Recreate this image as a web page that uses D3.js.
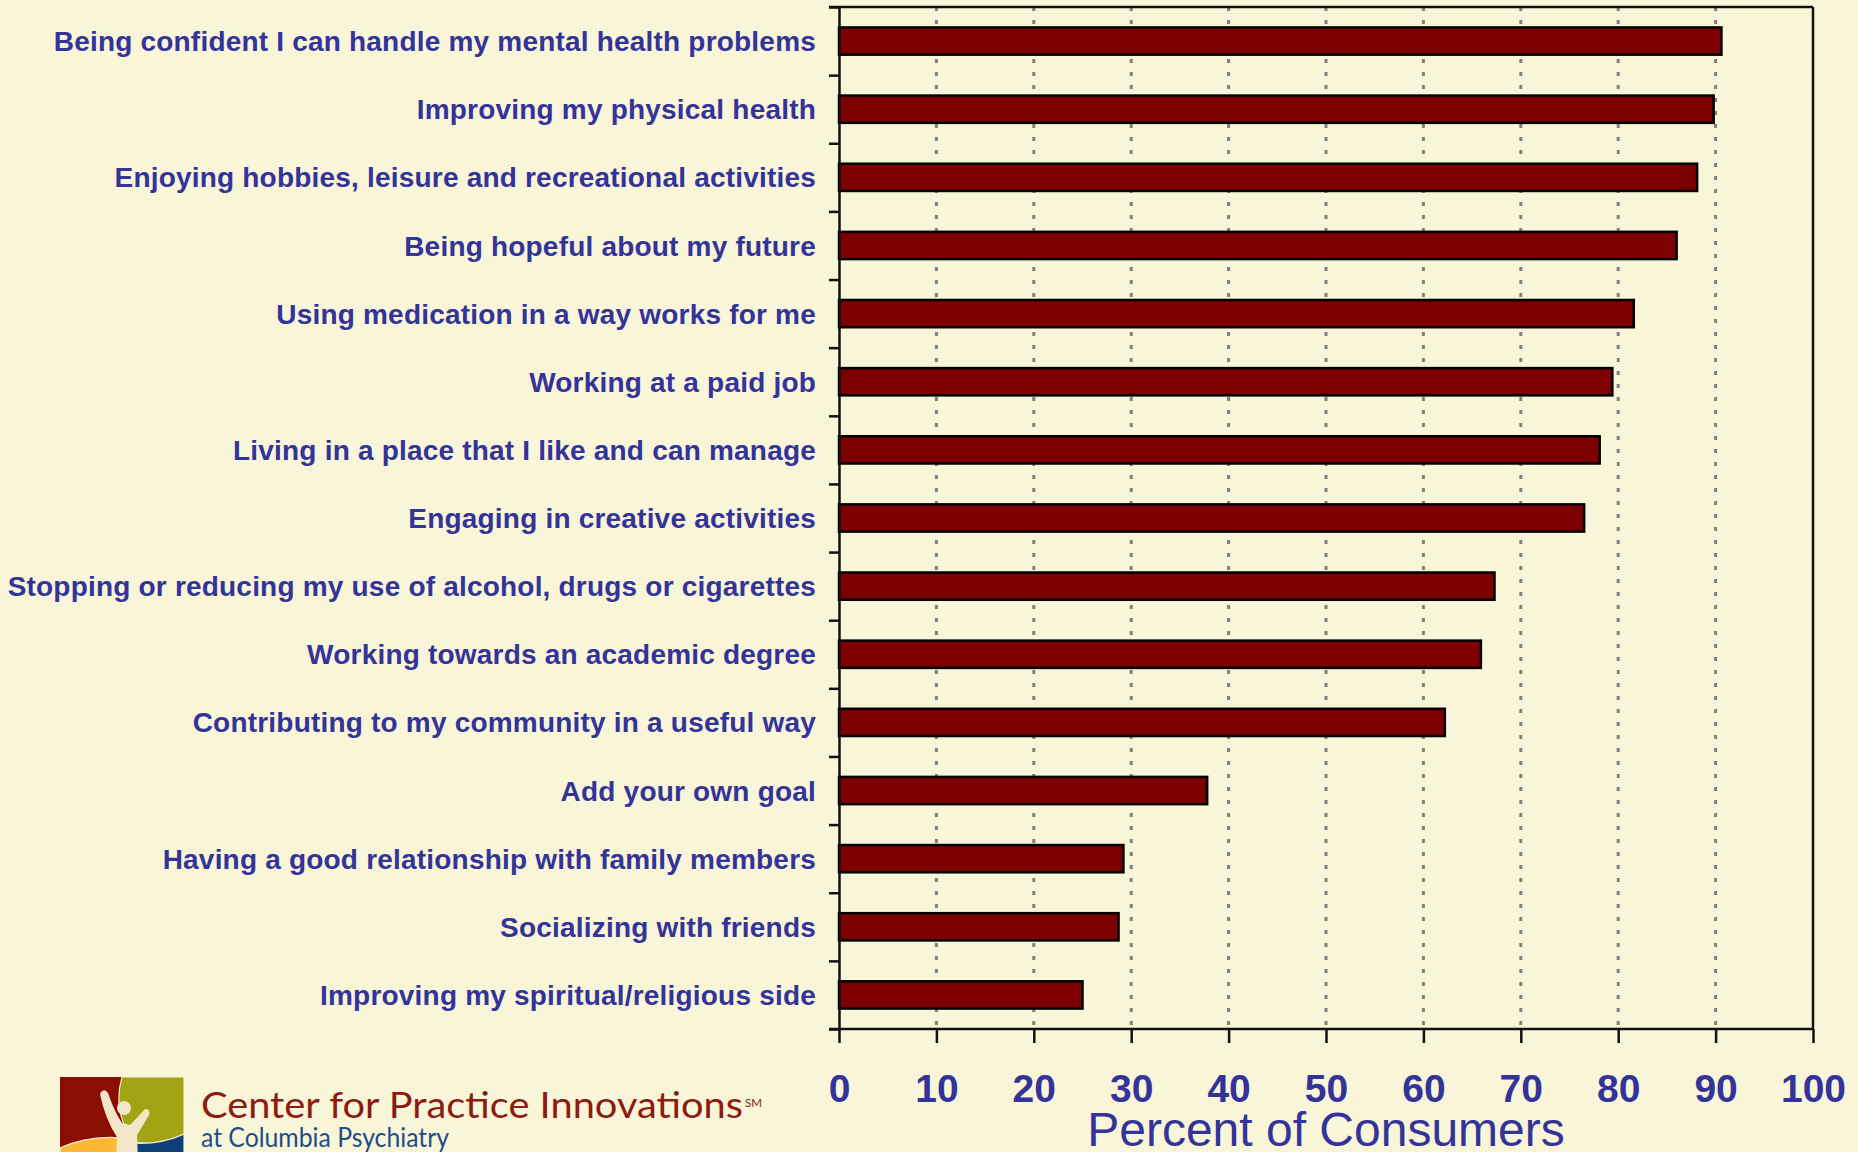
<!DOCTYPE html>
<html>
<head>
<meta charset="utf-8">
<script src="https://cdn.jsdelivr.net/npm/d3@7"></script>
<style>
  html, body { margin: 0; padding: 0; background: #f8f5d8; }
  svg { display: block; }
</style>
</head>
<body>
<svg id="chart" width="1858" height="1152"></svg>
<script>
// goals, top to bottom
const categories = [
  "Being confident I can handle my mental health problems",
  "Improving my physical health",
  "Enjoying hobbies, leisure and recreational activities",
  "Being hopeful about my future",
  "Using medication in a way works for me",
  "Working at a paid job",
  "Living in a place that I like and can manage",
  "Engaging in creative activities",
  "Stopping or reducing my use of alcohol, drugs or cigarettes",
  "Working towards an academic degree",
  "Contributing to my community in a useful way",
  "Add your own goal",
  "Having a good relationship with family members",
  "Socializing with friends",
  "Improving my spiritual/religious side"
];
const values = [90.6, 89.8, 88.1, 86.0, 81.6, 79.4, 78.1, 76.5, 67.3, 65.9, 62.2, 37.8, 29.2, 28.7, 25.0];
const xTicks = [0, 10, 20, 30, 40, 50, 60, 70, 80, 90, 100];
const xTitle = "Percent of Consumers";

const blue = "#333399";
const plotL = 839, plotR = 1813, plotT = 7, plotB = 1029;

const svg = d3.select("#chart");
svg.append("rect").attr("width", 1858).attr("height", 1152).attr("fill", "#f8f5d8");

const x = d3.scaleLinear().domain([0, 100]).range([plotL, plotR]);
const y = d3.scaleBand().domain(categories).range([plotT, plotB])
  .paddingInner(0.6).paddingOuter(0.3);
// slot boundaries for the left ticks
const ySlots = d3.scaleLinear().domain([0, categories.length]).range([plotT, plotB]);

// dashed grid
svg.append("g")
  .selectAll("line")
  .data(xTicks.filter(d => d > 0 && d < 100))
  .enter()
  .append("line")
  .attr("x1", d => x(d)).attr("x2", d => x(d))
  .attr("y1", plotT).attr("y2", plotB)
  .attr("stroke", "#808080")
  .attr("stroke-width", 3)
  .attr("stroke-dasharray", "4,9");

// frame top + right
svg.append("line").attr("x1", plotL - 10).attr("x2", plotR).attr("y1", plotT).attr("y2", plotT)
  .attr("stroke", "#111").attr("stroke-width", 2.5);
svg.append("line").attr("x1", plotR).attr("x2", plotR).attr("y1", plotT).attr("y2", plotB)
  .attr("stroke", "#111").attr("stroke-width", 2.5);

// bars
svg.append("g")
  .selectAll("rect")
  .data(values)
  .enter()
  .append("rect")
  .attr("x", x(0))
  .attr("y", (d, i) => y(categories[i]))
  .attr("width", d => x(d) - x(0))
  .attr("height", y.bandwidth())
  .attr("fill", "#7d0000")
  .attr("stroke", "#000")
  .attr("stroke-width", 2.5);

// left axis, ticks between slots
const yAxis = svg.append("g")
  .attr("transform", `translate(${plotL},0)`)
  .call(d3.axisLeft(ySlots).tickValues(d3.range(categories.length + 1))
    .tickFormat("").tickSize(10).tickSizeOuter(0));
yAxis.select(".domain").attr("stroke", "#111").attr("stroke-width", 2.5);
yAxis.selectAll(".tick line").attr("stroke", "#111").attr("stroke-width", 2.5);

// category labels
svg.append("g")
  .selectAll("text")
  .data(categories)
  .enter()
  .append("text")
  .attr("x", 816)
  .attr("y", d => y(d) + y.bandwidth() / 2)
  .attr("dy", "0.36em")
  .attr("text-anchor", "end")
  .attr("font-family", "'Liberation Sans', Arial, sans-serif")
  .attr("font-weight", "bold")
  .attr("font-size", 28)
  .attr("letter-spacing", 0.2)
  .attr("fill", blue)
  .text(d => d);

// bottom axis
const xAxis = svg.append("g")
  .attr("transform", `translate(0,${plotB})`)
  .call(d3.axisBottom(x).tickValues(xTicks).tickSize(14).tickPadding(31).tickSizeOuter(0));
xAxis.select(".domain").remove();
xAxis.selectAll(".tick line").attr("stroke", "#111").attr("stroke-width", 2.5);
xAxis.selectAll("text")
  .attr("font-family", "'Liberation Sans', Arial, sans-serif")
  .attr("font-weight", "bold")
  .attr("font-size", 39)
  .attr("fill", blue);
svg.append("line").attr("x1", plotL - 10).attr("x2", plotR).attr("y1", plotB).attr("y2", plotB)
  .attr("stroke", "#111").attr("stroke-width", 2.5);

svg.append("text")
  .attr("x", (plotL + plotR) / 2)
  .attr("y", 1146)
  .attr("text-anchor", "middle")
  .attr("font-family", "'Liberation Sans', Arial, sans-serif")
  .attr("font-size", 48)
  .attr("fill", blue)
  .text(xTitle);

// logo
const logo = svg.append("g");
logo.append("clipPath").attr("id", "logoClip")
  .append("rect").attr("x", 60).attr("y", 1077).attr("width", 124).attr("height", 124);
const lg = logo.append("g").attr("clip-path", "url(#logoClip)");
lg.append("rect").attr("x", 60).attr("y", 1077).attr("width", 124).attr("height", 124).attr("fill", "#8a0f02");
lg.append("path").attr("d", "M122,1077 Q112,1112 134,1142 Q160,1146 184,1134 L184,1077 Z")
  .attr("fill", "#a3a414").attr("stroke", "#f3ead0").attr("stroke-width", 1.2);
lg.append("path").attr("d", "M60,1148 Q92,1133 132,1139 L132,1210 L60,1210 Z")
  .attr("fill", "#fbb834").attr("stroke", "#f3ead0").attr("stroke-width", 1.2);
lg.append("path").attr("d", "M132,1143 Q160,1145 184,1134 L184,1210 L132,1210 Z")
  .attr("fill", "#0f3f7a").attr("stroke", "#f3ead0").attr("stroke-width", 1.2);
lg.append("path")
  .attr("d", "M100,1094 Q104,1087 108,1093 Q114,1111 122,1123 L130,1125 Q138,1117 145,1109 Q151,1109 149,1115 Q142,1127 137,1135 L138,1160 L116,1160 L117,1137 Q105,1119 100,1094 Z")
  .attr("fill", "#f2e6c9");
lg.append("circle").attr("cx", 124).attr("cy", 1108).attr("r", 7).attr("fill", "#f2e6c9");

svg.append("text")
  .attr("x", 201).attr("y", 1118)
  .attr("font-family", "Lato, 'Open Sans', sans-serif")
  .attr("font-size", 37)
  .attr("textLength", 542).attr("lengthAdjust", "spacingAndGlyphs")
  .attr("fill", "#8e1a10")
  .text("Center for Practice Innovations");
svg.append("text")
  .attr("x", 745).attr("y", 1107)
  .attr("font-family", "Lato, 'Open Sans', sans-serif")
  .attr("font-size", 12)
  .attr("textLength", 17).attr("lengthAdjust", "spacingAndGlyphs")
  .attr("fill", "#8e1a10")
  .text("SM");
svg.append("text")
  .attr("x", 201).attr("y", 1147)
  .attr("font-family", "Lato, 'Open Sans', sans-serif")
  .attr("font-size", 27)
  .attr("textLength", 248).attr("lengthAdjust", "spacingAndGlyphs")
  .attr("fill", "#1d4e8a")
  .text("at Columbia Psychiatry");
</script>
</body>
</html>
